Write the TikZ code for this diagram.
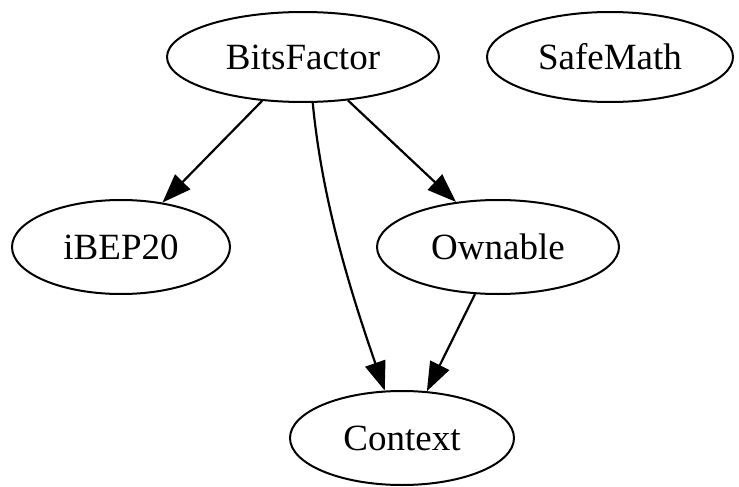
\documentclass[tikz,border=0pt]{standalone}
\usepackage{fontspec}
\setmainfont{Liberation Serif}
\usetikzlibrary{shapes.geometric,arrows.meta}
\begin{document}
\begin{tikzpicture}[x=1pt,y=-1pt,
  gnode/.style={ellipse,draw,line width=2pt,inner sep=0pt,font=\fontsize{37}{40}\selectfont},
  edge/.style={line width=2.2pt,-{Triangle[length=29pt,width=21pt]}}]
\useasboundingbox (0,0) rectangle (739,487);
\node[gnode,minimum width=272pt,minimum height=90pt] (bf) at (303,57) {BitsFactor};
\node[gnode,minimum width=246pt,minimum height=90pt] (sm) at (610,57) {SafeMath};
\node[gnode,minimum width=218pt,minimum height=94pt] (ib) at (121,247) {iBEP20};
\node[gnode,minimum width=242pt,minimum height=94pt] (ow) at (498,247) {Ownable};
\node[gnode,minimum width=224pt,minimum height=94pt] (cx) at (402,438) {Context};
\draw[edge] (bf.-133) -- (ib.47);
\draw[edge] (bf.-44) -- (ow.133);
\draw[edge] (bf.-78) .. controls (322,200) and (350,290) .. (cx.110);
\draw[edge] (ow.-116) -- (cx.62);
\end{tikzpicture}
\end{document}
